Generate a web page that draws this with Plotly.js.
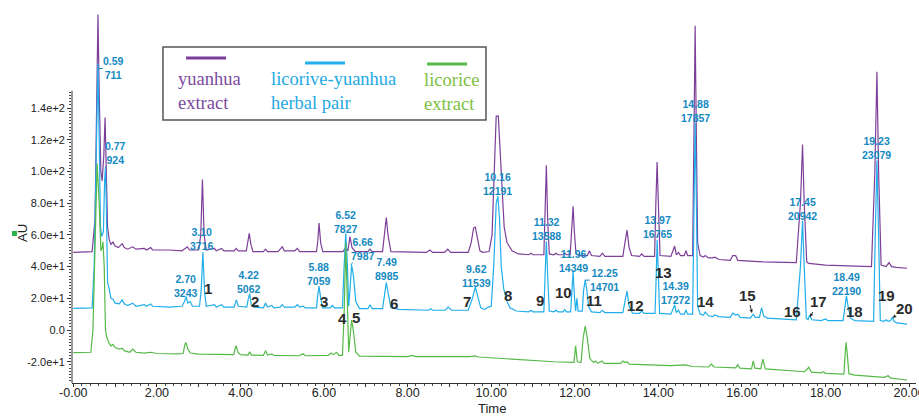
<!DOCTYPE html>
<html>
<head>
<meta charset="utf-8">
<script src="https://cdn.plot.ly/plotly-3.0.1.min.js"></script>
<style>html,body{margin:0;padding:0;background:#fff;}#chart{width:919px;height:416px;}</style>
</head>
<body>
<div id="chart"></div>
<script>
// ---- data (time in min, absorbance in AU) ----
const purpleT = [0.00,0.45,0.52,0.56,0.59,0.62,0.66,0.69,0.73,0.76,0.79,0.82,0.86,0.90,0.95,1.00,1.08,1.17,1.22,1.30,1.42,1.50,1.70,1.75,1.85,1.90,2.30,2.60,2.73,2.78,3.00,3.05,3.09,3.13,3.18,3.38,3.42,3.55,3.60,3.85,3.90,3.95,4.14,4.18,4.21,4.25,4.30,4.55,4.60,4.65,4.90,4.95,5.00,5.05,5.30,5.36,5.42,5.82,5.85,5.88,5.92,5.97,6.45,6.52,6.57,6.62,6.67,6.75,7.05,7.10,7.15,7.40,7.45,7.49,7.53,7.60,8.45,8.53,8.60,8.88,8.96,9.03,9.45,9.52,9.58,9.62,9.67,9.73,9.80,9.95,10.02,10.08,10.12,10.17,10.21,10.26,10.31,10.38,10.50,10.65,10.90,10.95,11.00,11.26,11.29,11.32,11.35,11.39,11.50,11.55,11.60,11.72,11.76,11.80,11.89,11.93,11.96,11.99,12.03,12.10,12.30,12.35,12.40,12.60,12.66,12.72,13.15,13.20,13.25,13.30,13.36,13.55,13.60,13.66,13.91,13.94,13.97,14.00,14.04,14.30,14.35,14.39,14.43,14.48,14.53,14.62,14.66,14.70,14.82,14.85,14.88,14.91,14.94,15.00,15.08,15.12,15.20,15.30,15.35,15.45,15.72,15.78,15.85,15.90,16.50,17.30,17.40,17.45,17.49,17.55,17.60,18.00,18.50,19.10,19.18,19.23,19.27,19.33,19.45,19.52,19.58,19.70,19.95];
const purpleV = [49.0,49.5,70,150,199,150,100,94,110,134,100,65,57,54,55.5,53,52,54.5,52,51,52.5,51,51.5,50.5,52,50.5,50.5,50,52.5,50.5,50.5,60,95,60,50.5,51.5,50,51.5,50,50,51.5,50,50,58,61,54,49.5,49.5,51,49.5,49.5,51,52.5,50,50,51.5,49.5,49.5,56,67.5,55,49.5,49.5,52,50,59,52,49.5,49.5,51,49.5,49.5,60,71,60,49.5,49,50.5,49,49,51,49,49,55,64.5,65,58,50,49,49.5,60,110,135,135,115,85,65,55,50,48,47.5,48.5,47.5,47.5,70,104,70,48,47.5,48.5,47.5,47.5,48.5,47.5,47.5,65,78,62,48,47,47,50,47,46.5,48.5,46.5,46.5,55,63,52,47,46.5,48,46.5,46.5,80,106,80,47,46.5,50,53,47.5,49,47,47,50,47,47,120,192,120,55,47,46,47,45.5,45.5,46,44.5,44,47,47,44,43,42.5,80,117,80,43,42,41,40.5,40,100,163,100,41,40,42.5,40,39.5,39];

const blueT = [0.00,0.45,0.50,0.55,0.59,0.62,0.65,0.68,0.72,0.75,0.77,0.79,0.82,0.86,0.90,0.95,1.00,1.10,1.17,1.22,1.30,1.42,1.50,1.70,1.75,1.85,1.90,2.30,2.60,2.66,2.70,2.74,2.80,2.85,3.02,3.06,3.10,3.14,3.18,3.38,3.42,3.55,3.60,3.85,3.90,3.95,4.15,4.19,4.22,4.26,4.32,4.55,4.60,4.65,4.75,4.80,4.95,5.00,5.05,5.30,5.36,5.42,5.50,5.55,5.82,5.85,5.88,5.92,5.97,6.15,6.20,6.25,6.44,6.48,6.52,6.56,6.59,6.62,6.66,6.70,6.76,6.85,7.05,7.10,7.15,7.40,7.45,7.49,7.53,7.60,7.80,8.50,8.55,8.60,8.90,8.97,9.05,9.45,9.55,9.62,9.67,9.75,9.85,9.93,10.00,10.06,10.12,10.16,10.20,10.24,10.30,10.38,10.45,10.60,10.90,10.95,11.00,11.26,11.29,11.32,11.35,11.39,11.50,11.55,11.60,11.72,11.76,11.80,11.90,11.93,11.96,11.99,12.02,12.05,12.08,12.18,12.21,12.25,12.29,12.33,12.40,12.60,12.66,12.72,13.15,13.20,13.25,13.30,13.38,13.55,13.60,13.66,13.92,13.95,13.97,14.00,14.03,14.30,14.35,14.39,14.43,14.48,14.53,14.62,14.66,14.70,14.82,14.85,14.88,14.91,14.94,15.00,15.08,15.12,15.20,15.30,15.35,15.45,15.72,15.78,15.85,15.90,15.96,16.20,16.27,16.32,16.42,16.47,16.52,16.60,17.30,17.40,17.45,17.49,17.54,17.58,17.62,17.67,17.90,18.00,18.05,18.42,18.47,18.50,18.54,18.60,18.70,19.15,19.19,19.23,19.27,19.31,19.40,19.45,19.50,19.56,19.60,19.64,19.70,19.95];
const blueV = [13.7,14,40,120,168,120,65,59,62,95,102,80,30,26,20,19.5,17,16.5,19,16.5,15.5,17,15,16,15,16.5,15,14.5,15,18,21,17,18,15,15,25,49,25,15,16,14.5,16,14.5,14.5,19,15,14.5,20,23,16,14.5,14,17,14.5,15.5,14,14.5,16,14.5,14.5,16,14.5,15,14,14,22,27.7,20,14,14,15.5,14,14,40,61,40,15,25,41,35,18,13.5,13.5,16,13.5,13.5,24,30,24,14,13,12.5,13.5,12.5,12.5,14.5,12.5,12.5,20,27,22,14,13,14.5,15,40,80,84.5,70,40,26,18,14,12,11.5,12.5,11.5,11.5,35,56,35,12,11.5,12.5,11.5,11.5,13,11.5,11.5,25,36.6,22,12,20,12,12,25,31.5,25,15,11.5,11,12.5,11,11,18,24.6,15,10.7,10.5,12,10.5,10.5,35,57,35,10.5,10,13,15.8,11,12.6,10,10,12.6,10,10,80,130.6,80,15,10,9.5,11.4,9,8.5,9.5,8.5,8,10.7,9.5,10,8,7.5,10,8,8,14,9,7.5,6.5,40,69,40,7.5,6.5,9.5,6.5,6,7,6,6,18,21.5,15,7.5,6,5.5,60,107,60,6,5.5,6.5,5.5,6,8.2,5.5,4.5,3.8];

const greenT = [0.00,0.42,0.47,0.52,0.57,0.62,0.66,0.69,0.71,0.74,0.77,0.80,0.85,0.90,0.95,1.00,1.10,1.17,1.22,1.35,1.42,1.50,1.70,1.85,2.00,2.50,2.63,2.67,2.70,2.74,2.80,3.00,3.50,3.84,3.88,3.90,3.94,4.00,4.18,4.22,4.26,4.55,4.60,4.65,4.75,4.80,5.40,5.50,5.55,6.10,6.17,6.22,6.30,6.35,6.44,6.48,6.52,6.56,6.59,6.62,6.66,6.70,6.76,6.85,8.00,8.10,8.20,9.50,9.60,9.70,10.50,11.50,11.98,12.02,12.06,12.15,12.20,12.25,12.30,12.36,12.45,12.50,12.55,12.65,12.70,13.10,13.15,13.20,13.25,13.30,14.30,14.65,14.80,15.20,15.27,15.33,15.85,15.90,15.95,16.23,16.27,16.31,16.45,16.50,16.56,17.50,17.60,17.66,17.90,17.95,18.00,18.44,18.47,18.49,18.52,18.56,18.70,19.40,19.50,19.56,19.95];
const greenV = [-14.3,-14,0,60,105,80,50,52,55.7,40,0,-4.4,-8,-10,-9,-11,-12,-11.5,-13,-14,-12,-14,-14.5,-14,-14.8,-15,-14.8,-9,-8,-12,-14.5,-15.2,-15.5,-15.5,-11,-10,-14,-15.5,-15.8,-13.7,-15.8,-16,-13,-15.8,-15,-16,-16.2,-15,-16.2,-16,-14.5,-15.5,-14,-16,-16,10,55,10,-14,-5,6.3,0,-14,-16.5,-16.8,-16,-16.8,-16.8,-16.3,-17,-18.5,-20,-20.4,-10,-20,-20.5,-5,2.5,-5,-18,-20.5,-19.5,-21,-19.5,-21,-21,-19.5,-20.5,-20,-21.5,-22.5,-22,-23,-23.3,-21.5,-23.3,-23.8,-21.8,-24,-24.5,-19.5,-24,-24.5,-18.3,-24.5,-26.3,-23.5,-26.5,-27,-26.3,-27.3,-27.8,-15,-7.8,-15,-27.5,-28.4,-29.8,-28.8,-30.3,-31.5];

// peak labels: retention time / area
const labelRT   = ['0.59','0.77','2.70','3.10','4.22','5.88','6.52','6.66','7.49','9.62','10.16','11.32','11.96','12.25','13.97','14.39','14.88','17.45','18.49','19.23'];
const labelArea = ['711','924','3243','3716','5062','7059','7827','7987','8985','11539','12191','13588','14349','14701','16765','17272','17857','20942','22190','23079'];
const peakNumbers = ['1','2','3','4','5','6','7','8','9','10','11','12','13','14','15','16','17','18','19','20'];

const yTickVals = [-20,0,20,40,60,80,100,120,140];
const yTickText = ['-2.0e+1','0.0','2.0e+1','4.0e+1','6.0e+1','8.0e+1','1.0e+2','1.2e+2','1.4e+2'];
const xTickVals = [0,1,2,3,4,5,6,7,8,9,10,11,12,13,14,15,16,17,18,19,20];
const xTickText = ['-0.00','','2.00','','4.00','','6.00','','8.00','','10.00','','12.00','','14.00','','16.00','','18.00','','20.00'];

const seriesNames = ['yuanhua extract','licorive-yuanhua herbal pair','licorice extract'];

// ---- styling / placement ----
const C_PURPLE = '#7d3f99', C_BLUE = '#21aeea', C_GREEN = '#55b947';
const C_LABEL = '#1489c1';
const SANS = "'Liberation Sans', Arial, sans-serif";
const SERIF = "'Liberation Serif', 'Times New Roman', serif";

// label text centre (x,y) and optional leader target (hx,hy), in data units
const labelPos = [
  [0.97,165,0.59,165],[1.00,112,0.76,102],[2.70,27.8],[3.08,57.4],[4.21,30.3],[5.88,35.3],
  [6.52,68.1],[6.93,51.1,6.64,41],[7.51,38.5],[9.66,34.1],[10.16,92.1],[11.33,63.7],
  [11.96,43.5],[12.72,31.5,12.24,31.5],[13.97,65.0],[14.42,23.3],[14.90,138.2],[17.46,76.3],
  [18.51,29.0],[19.23,114.8]
];
const numPos = [
  [3.22,26.5],[4.35,18.3],[6.00,17.7],[6.45,7.6],[6.76,8.2],[7.67,17.0],[9.42,17.7],[10.40,22.1],
  [11.17,18.9],[11.74,24.0],[12.46,18.9],[13.46,15.8],[14.13,36.6],[15.12,17.7],
  [16.14,22.1,16.24,10.7],[17.22,12.0],[17.82,17.7,17.63,8.2],[18.70,12.0],[19.47,22.1],[19.88,13.9,19.61,7.6]
];

const traces = [
  {x: purpleT, y: purpleV, name: seriesNames[0], line: {color: C_PURPLE, width: 1.2}},
  {x: blueT, y: blueV, name: seriesNames[1], line: {color: C_BLUE, width: 1.2}},
  {x: greenT, y: greenV, name: seriesNames[2], line: {color: C_GREEN, width: 1.2}}
].map(t => Object.assign({type: 'scatter', mode: 'lines', hoverinfo: 'skip'}, t));

const annotations = [];
labelRT.forEach((rt, i) => {
  const p = labelPos[i];
  const a = {
    text: rt + '<br>' + labelArea[i], xref: 'x', yref: 'y',
    font: {family: SANS, size: 10.5, color: C_LABEL, weight: 'bold'},
    showarrow: false, borderpad: 0
  };
  if (p.length > 2) {
    Object.assign(a, {x: p[2], y: p[3], ax: p[0], ay: p[1], axref: 'x', ayref: 'y', showarrow: true,
      arrowhead: 0, arrowwidth: 1, arrowcolor: C_LABEL, standoff: 0, startstandoff: 0});
  } else {
    Object.assign(a, {x: p[0], y: p[1]});
  }
  annotations.push(a);
});
peakNumbers.forEach((n, i) => {
  const p = numPos[i];
  const a = {text: n, xref: 'x', yref: 'y', showarrow: false,
    font: {family: SANS, size: 15, color: '#2b2b2b', weight: 'bold'}};
  if (p.length > 2) {
    Object.assign(a, {x: p[2], y: p[3], ax: p[0], ay: p[1], axref: 'x', ayref: 'y', showarrow: true,
      arrowhead: 2, arrowsize: 0.7, arrowwidth: 1, arrowcolor: '#2b2b2b', standoff: 0});
  } else {
    Object.assign(a, {x: p[0], y: p[1]});
  }
  annotations.push(a);
});

// legend (custom box: line sample above two-line serif text)
const legFont = (c) => ({family: SERIF, size: 18.5, color: c});
annotations.push(
  {xref: 'paper', yref: 'paper', x: 0.1232, y: 0.762, xanchor: 'left', yanchor: 'middle', align: 'left', showarrow: false,
   text: 'yuanhua<br>extract', font: legFont('#7b4a9e')},
  {xref: 'paper', yref: 'paper', x: 0.2334, y: 0.762, xanchor: 'left', yanchor: 'middle', align: 'left', showarrow: false,
   text: 'licorive-yuanhua<br>herbal pair', font: legFont('#1ea9e3')},
  {xref: 'paper', yref: 'paper', x: 0.4147, y: 0.760, xanchor: 'left', yanchor: 'middle', align: 'left', showarrow: false,
   text: 'licorice<br>extract', font: legFont('#7cc142')},
  // axis titles
  {xref: 'paper', yref: 'paper', x: 0.4976, y: -0.0653, xanchor: 'center', yanchor: 'middle', showarrow: false,
   text: 'Time', font: {family: SANS, size: 13, color: '#222'}},
  {xref: 'paper', yref: 'paper', x: -0.058, y: 0.392, xanchor: 'center', yanchor: 'middle', showarrow: false,
   text: 'AU', textangle: -90, font: {family: SANS, size: 13, color: '#222'}}
);

const yMinor = [];
for (let v = -32; v <= 150; v += 2) yMinor.push(v);

const shapes = [
  {type: 'rect', xref: 'paper', yref: 'paper', x0: 0.1078, x1: 0.4905, y0: 0.6867, y1: 0.8773,
   line: {color: '#555', width: 1.5}, fillcolor: 'rgba(0,0,0,0)'},
  {type: 'line', xref: 'paper', yref: 'paper', x0: 0.1351, x1: 0.1825, y0: 0.8486, y1: 0.8486, line: {color: C_PURPLE, width: 3}},
  {type: 'line', xref: 'paper', yref: 'paper', x0: 0.2761, x1: 0.3235, y0: 0.8355, y1: 0.8355, line: {color: C_BLUE, width: 3}},
  {type: 'line', xref: 'paper', yref: 'paper', x0: 0.4206, x1: 0.4680, y0: 0.8329, y1: 0.8329, line: {color: C_GREEN, width: 3}},
  // y axis line
  {type: 'line', xref: 'paper', yref: 'y', x0: 0, x1: 0, y0: -33.4, y1: 151, line: {color: '#333', width: 1}},
  // green marker near AU
  {type: 'rect', xref: 'paper', yref: 'paper', x0: -0.0711, x1: -0.0652, y0: 0.3838, y1: 0.3969,
   line: {width: 0}, fillcolor: '#2db34a'}
];

const layout = {
  width: 919, height: 416,
  margin: {l: 72, r: 3, t: 0, b: 33},
  paper_bgcolor: '#fff', plot_bgcolor: '#fff',
  showlegend: false,
  xaxis: {
    range: [-0.031, 20.165], showline: true, linecolor: '#333', linewidth: 1,
    showgrid: false, zeroline: false,
    tickmode: 'array', tickvals: xTickVals, ticktext: xTickText,
    ticks: 'outside', ticklen: 3, tickcolor: '#333', tickwidth: 1,
    ticklabelstandoff: -5, ticklabeloverflow: 'allow',
    minor: {dtick: 0.2, tick0: 0, ticks: 'outside', ticklen: 2, tickcolor: '#444', showgrid: false},
    tickfont: {family: SANS, size: 12.5, color: '#222'}
  },
  yaxis: {
    range: [-33.4, 208.2], showline: false, showgrid: false, zeroline: false,
    tickmode: 'array', tickvals: yTickVals, ticktext: yTickText,
    ticks: 'outside', ticklen: 4, tickcolor: '#333', tickwidth: 1,
    minor: {tickmode: 'array', tickvals: yMinor, ticks: 'outside', ticklen: 2, tickcolor: '#444', showgrid: false},
    tickfont: {family: SANS, size: 11, color: '#222'}
  },
  annotations: annotations,
  shapes: shapes
};

Plotly.newPlot('chart', traces, layout, {staticPlot: true, displayModeBar: false});
</script>
</body>
</html>
